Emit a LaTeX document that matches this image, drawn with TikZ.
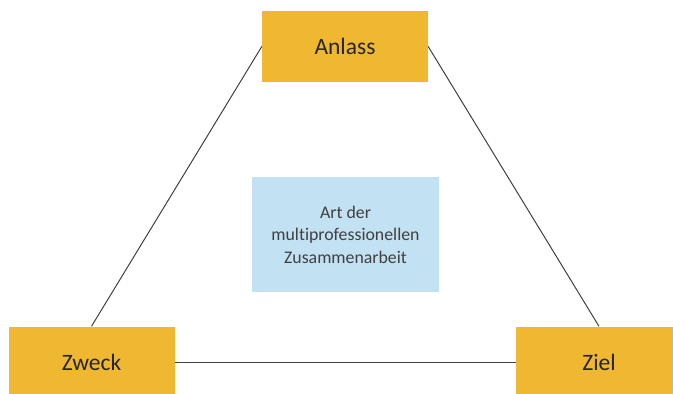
\documentclass[tikz,border=0pt]{standalone}
\usepackage{fontspec}
\setmainfont{Carlito}[Ligatures={NoCommon}]
\definecolor{boxorange}{HTML}{F0B731}
\definecolor{boxblue}{HTML}{C2E1F2}
\definecolor{linegray}{HTML}{404040}
\definecolor{txtgray}{HTML}{262626}
\begin{document}
\begin{tikzpicture}[x=1pt,y=-1pt,
  corner/.style={fill=boxorange, draw=none, minimum width=166pt, minimum height=71pt, inner sep=0pt, text=txtgray, font=\fontsize{23.5}{27}\selectfont},
  center/.style={fill=boxblue, draw=none, minimum width=187pt, minimum height=115pt, inner sep=0pt, text=linegray, align=center, font=\fontsize{17.8}{22.5}\selectfont},
  link/.style={draw=linegray, line width=1pt}]
\useasboundingbox (0,0) rectangle (673,394);
\clip (0,0) rectangle (673,394);
\node[corner] (anlass) at (345,46.5) {Anlass};
\node[corner] (zweck) at (91.5,362) {Zweck};
\node[corner] (ziel) at (599,362) {Ziel};
\node[center] (art) at (345.5,234.5) {Art der\\multiprofessionellen\\Zusammenarbeit};
\draw[link] (zweck.north) -- (anlass.west);
\draw[link] (ziel.north) -- (anlass.east);
\draw[link] (zweck.east) -- (ziel.west);
\end{tikzpicture}
\end{document}
